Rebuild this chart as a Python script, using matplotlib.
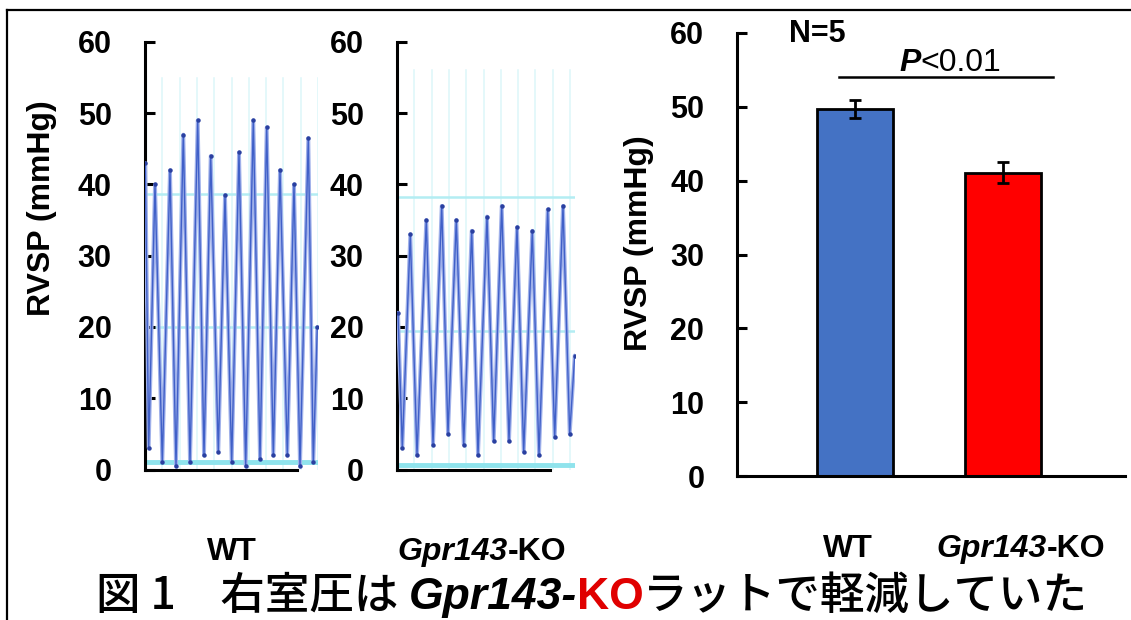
import matplotlib
matplotlib.use("Agg")
import matplotlib.pyplot as plt
from matplotlib.lines import Line2D
import numpy as np

# ---------------- data ----------------
yticks = [0, 10, 20, 30, 40, 50, 60]

# WT pressure trace: sample time (a.u.) and pressure (mmHg) at turning points
wt_time = [0.3, 3.7, 10, 17.3, 25, 31, 38.3, 45, 52.7, 59, 65.7, 73.3, 80, 86.7,
           94, 100.7, 108.3, 115, 121.7, 128.3, 135, 142.3, 149, 155, 163.3, 168.3, 172.3]
wt_pressure = [43, 3, 40, 1, 42, 0.5, 47, 1, 49, 2, 44, 2.5, 38.5, 1,
               44.5, 0.5, 49, 1.5, 48, 2, 42, 2, 40, 0.5, 46.5, 1, 20]
wt_rec_lines = [1.0, 20, 38.7]      # recorder grid levels (mmHg)
wt_rec_top = 55

# Gpr143-KO pressure trace
ko_time = [1, 5.3, 13.3, 20, 29.3, 36, 44.7, 51, 59.3, 66.7, 74.7, 81, 90, 96.7,
           104.7, 112, 120, 126.7, 135.3, 142, 150.7, 157.7, 166, 172.7, 177.7]
ko_pressure = [22, 3, 33, 2, 35, 3.5, 37, 5, 35, 3.5, 33.5, 2, 35.5, 4,
               37, 4, 34, 2.5, 33.5, 2, 36.5, 4.5, 37, 5, 16]
ko_rec_lines = [0.6, 19.5, 38.2]
ko_rec_top = 56

# bar chart
groups = ["WT", "Gpr143-KO"]
rvsp_mean = [49.7, 41.1]
rvsp_sem = [1.2, 1.4]
bar_colors = ["#4472C4", "#FF0000"]
n_label = "N=5"
p_label = "<0.01"

# ---------------- figure ----------------
W, H = 1131, 620
fig = plt.figure(figsize=(W / 100, H / 100), dpi=100)
LAT = ["Liberation Sans", "DejaVu Sans"]
JP = ["Noto Sans CJK JP", "DejaVu Sans"]
plt.rcParams["font.family"] = LAT


def px_axes(x0, y0, x1, y1):
    return fig.add_axes([x0 / W, 1 - y1 / H, (x1 - x0) / W, (y1 - y0) / H])


def rich(x, y, pieces, ha="center", va="baseline"):
    """draw consecutive text pieces; x,y in figure pixels (top-left origin)"""
    texts = []
    for s, kw in pieces:
        t = fig.text(0, 1 - y / H, s, va=va, **kw)
        texts.append(t)
    fig.canvas.draw()
    r = fig.canvas.get_renderer()
    widths = [t.get_window_extent(r).width for t in texts]
    total = sum(widths)
    cur = x - total / 2 if ha == "center" else x
    for t, w in zip(texts, widths):
        t.set_x(cur / W)
        cur += w
    return texts


def style_axis(ax, pad):
    for s in ["top", "right"]:
        ax.spines[s].set_visible(False)
    for s in ["left", "bottom"]:
        ax.spines[s].set_linewidth(2.2)
    ax.set_ylim(0, 60)
    ax.set_yticks(yticks)
    ax.tick_params(axis="y", direction="in", length=7, width=2.2, pad=pad,
                   labelsize=22)
    for lab in ax.get_yticklabels():
        lab.set_fontweight("bold")


def trace_panel(ax, t, p, rec_lines, rec_top, xmax, spine_end):
    ax.set_xlim(0, xmax)
    style_axis(ax, 24)
    ax.set_xticks([])
    ax.spines["bottom"].set_bounds(0, spine_end)
    # recorder grid
    for gx in np.arange(0, xmax + 0.1, 17.3):
        ax.plot([gx, gx], [0, rec_top], color="#dcf6f9", lw=1.1, zorder=1)
    ax.plot([0, 0], [0, rec_top], color="#c4f1f5", lw=3, zorder=1)
    ax.plot([0, xmax], [rec_lines[0]] * 2, color="#8fe3ec", lw=3.5, zorder=1)
    for lv in rec_lines[1:]:
        ax.plot([0, xmax], [lv, lv], color="#b3edf3", lw=1.8, zorder=1)
    ax.plot(t, p, color="#9fb0ea", lw=2.8, zorder=3, solid_joinstyle="round",
            solid_capstyle="round")
    ax.plot(t, p, color="#4060c8", lw=1.0, zorder=4, solid_joinstyle="round")
    ax.plot(t, p, "o", color="#2a40a0", ms=2.2, zorder=5)


ax1 = px_axes(145, 42, 318, 469.5)
trace_panel(ax1, wt_time, wt_pressure, wt_rec_lines, wt_rec_top, 173, 152)
ax2 = px_axes(397, 42, 575, 469.5)
trace_panel(ax2, ko_time, ko_pressure, ko_rec_lines, ko_rec_top, 178, 153)

ax3 = px_axes(737, 33, 1125, 476)
style_axis(ax3, 23.5)
xpos = np.arange(len(groups))
ax3.set_xlim(-0.797, 1.824)
ax3.bar(xpos, rvsp_mean, width=0.507, color=bar_colors, edgecolor="black",
        linewidth=2, zorder=2)
ax3.errorbar(xpos, rvsp_mean, yerr=rvsp_sem, fmt="none", ecolor="black",
             elinewidth=2, capsize=4, capthick=2, zorder=3)
ax3.set_xticks([])
ax3.plot([-0.11, 1.34], [54.1, 54.1], color="black", lw=1.8, clip_on=False)
ax3.text(-0.257, 59.9, n_label, ha="center", va="center", fontsize=22,
         fontweight="bold")

# y labels
fig.text(42 / W, 1 - 208 / H, "RVSP (mmHg)", rotation=90, ha="center",
         va="center", fontsize=23, fontweight="bold")
fig.text(639 / W, 1 - 243 / H, "RVSP (mmHg)", rotation=90, ha="center",
         va="center", fontsize=23, fontweight="bold")

# P value
rich(950, 71, [("P", dict(fontsize=23, fontstyle="italic", fontweight="bold")),
               (p_label, dict(fontsize=23))])

# x labels
BI = dict(fontsize=23, fontstyle="italic", fontweight="bold")
B = dict(fontsize=23, fontweight="bold")
rich(232, 560, [("WT", B)])
rich(482, 560, [("Gpr143", BI), ("-KO", B)])
rich(848, 557, [("WT", B)])
rich(1021, 557, [("Gpr143", BI), ("-KO", B)])

# caption
CJ = dict(fontsize=32, family=JP, fontweight="medium")
rich(96, 609, [("図 1　右室圧は ", CJ),
               ("Gpr143-", dict(fontsize=32, fontstyle="italic", fontweight="bold")),
               ("KO", dict(fontsize=32, fontweight="bold", color="#E00000")),
               ("ラットで軽減していた", CJ)], ha="left")

# outer frame
fig.add_artist(Line2D([7 / W, 1], [1 - 10 / H, 1 - 10 / H], color="black", lw=1.6))
fig.add_artist(Line2D([7 / W, 7 / W], [0, 1 - 10 / H], color="black", lw=1.6))

fig.savefig("out.png", dpi=100)
